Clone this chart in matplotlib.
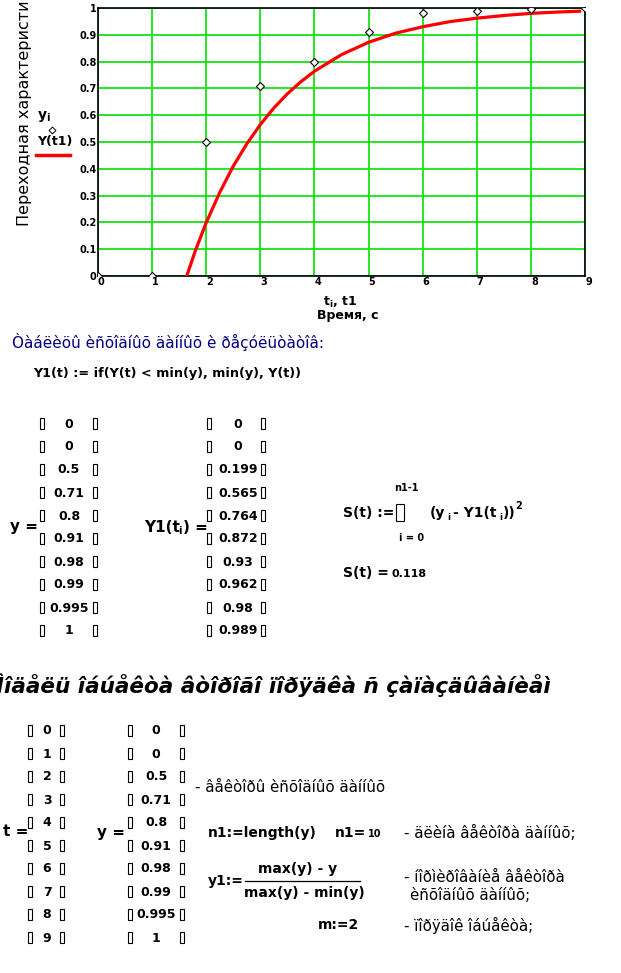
import matplotlib
matplotlib.use("Agg")
import matplotlib.pyplot as plt
from matplotlib.lines import Line2D
from matplotlib.patches import Rectangle

W, H = 621, 973

# experimental data
t_exp = [0, 1, 2, 3, 4, 5, 6, 7, 8, 9]
y_exp = [0, 0, 0.5, 0.71, 0.8, 0.91, 0.98, 0.99, 0.995, 1]

# model curve Y1(t1)
t_mod = [1.64, 1.8, 2.0, 2.25, 2.5, 2.75, 3.0, 3.25, 3.5, 3.75, 4.0, 4.5, 5.0,
         5.5, 6.0, 6.5, 7.0, 7.5, 8.0, 8.5, 8.9]
y_mod = [0.0, 0.095, 0.199, 0.312, 0.410, 0.493, 0.565, 0.627, 0.680, 0.725,
         0.764, 0.826, 0.872, 0.906, 0.930, 0.949, 0.962, 0.972, 0.980, 0.985,
         0.988]

# table of model values at t_i
y1_ti = ["0", "0", "0.199", "0.565", "0.764", "0.872", "0.93", "0.962", "0.98", "0.989"]
y_lbl = ["0", "0", "0.5", "0.71", "0.8", "0.91", "0.98", "0.99", "0.995", "1"]
t_lbl = ["0", "1", "2", "3", "4", "5", "6", "7", "8", "9"]
S_val = "0.118"
n1_val = "10"


def cp(s):
    # текст в кодировке, как его показывает Mathcad
    return s.encode("cp1251").decode("latin-1")


fig = plt.figure(figsize=(W / 100, H / 100), dpi=100)
fig.patch.set_facecolor("white")


def txt(x, y, s, **kw):
    kw.setdefault("va", "center")
    kw.setdefault("ha", "left")
    kw.setdefault("fontweight", "bold")
    kw.setdefault("fontsize", 9)
    return fig.text(x / W, 1 - y / H, s, **kw)


def box(x, y, w, h):
    # пустой прямоугольник (так Mathcad рисует скобки и знак суммы)
    fig.add_artist(Rectangle((x / W, 1 - (y + h) / H), w / W, h / H, fill=False,
                             ec="black", lw=0.8, transform=fig.transFigure))


### График
ax = fig.add_axes([98 / W, 1 - 276 / H, 487 / W, 268 / H])
ax.plot(t_mod, y_mod, color="#ff0000", lw=2.3, zorder=3)
ax.plot(t_exp, y_exp, "D", ms=4.5, mfc="white", mec="black", mew=0.8, zorder=4)
ax.set_xlim(0, 9)
ax.set_ylim(0, 1)
ax.set_xticks(range(10))
ax.set_yticks([i / 10 for i in range(11)])
ax.set_yticklabels(["0", "0.1", "0.2", "0.3", "0.4", "0.5", "0.6", "0.7", "0.8", "0.9", "1"])
ax.grid(True, color="#00e000", lw=1.2)
ax.tick_params(length=0, labelsize=7, pad=1)
for lab in ax.get_xticklabels():
    lab.set_ha("left")
    lab.set_fontweight("bold")
for lab in ax.get_yticklabels():
    lab.set_fontweight("bold")
for sp in ax.spines.values():
    sp.set_color("black")
    sp.set_linewidth(1.2)

txt(25, 226, "Переходная характеристика", rotation=90, va="bottom", ha="center",
    fontsize=11.5, fontweight="normal")
txt(340, 302, r"$\mathbf{t}_\mathbf{i}$" + ", t1", fontsize=9, ha="center")
txt(348, 316, "Время, с", fontsize=9, ha="center")

# легенда
txt(37, 117, r"$\mathbf{y}_\mathbf{i}$", fontsize=10)
fig.add_artist(Line2D([52 / W], [1 - 130 / H], marker="D", ms=3.5, mfc="white",
                      mec="black", mew=0.7, transform=fig.transFigure))
txt(37, 142, "Y(t1)", fontsize=9)
fig.add_artist(Line2D([36 / W, 70 / W], [1 - 155 / H] * 2, color="#ff0000", lw=2.5,
                      transform=fig.transFigure))

### Таблицы результатов
txt(12, 342, cp("Таблицы исходных данных и результатов:"), fontsize=11,
    fontweight="normal", color="#000080")
txt(33, 374, "Y1(t) := if(Y(t) < min(y), min(y), Y(t))", fontsize=9.2)


def matrix(xl, xr, xc, y0, vals):
    for k, v in enumerate(vals):
        yy = y0 + 23 * k
        box(xl - 2, yy - 6, 4, 11)
        box(xr - 2, yy - 6, 4, 11)
        txt(xc, yy, v, fontsize=9, ha="center")


txt(10, 527, "y =", fontsize=11)
matrix(42, 95, 69, 424, y_lbl)
txt(144, 527, "Y1(t", fontsize=11)
txt(178, 531, "i", fontsize=7)
txt(183, 527, ") =", fontsize=11)
matrix(209, 263, 238, 424, y1_ti)

txt(343, 513, "S(t) :=", fontsize=10)
box(396, 504, 8, 17)
txt(406, 488, "n1-1", fontsize=7, ha="center")
txt(412, 538, "i = 0", fontsize=7, ha="center")
txt(430, 513, "(y", fontsize=10)
txt(447, 517, "i", fontsize=6)
txt(453, 513, "- Y1(t", fontsize=10)
txt(499, 517, "i", fontsize=6)
txt(503, 513, "))", fontsize=10)
txt(515, 506, "2", fontsize=7)
txt(343, 573, "S(t) =", fontsize=10)
txt(392, 574, S_val, fontsize=8)

### Модель
txt(-4, 685, cp("Модель объекта второго порядка с запаздыванием"), fontsize=15.5,
    fontstyle="italic")

txt(3, 832, "t =", fontsize=11)
matrix(30, 62, 47, 731, t_lbl)
txt(97, 832, "y =", fontsize=11)
matrix(130, 182, 156, 731, y_lbl)

txt(195, 787, cp("- векторы исходных данных"), fontsize=10.8, fontweight="normal")
txt(208, 833, "n1:=length(y)", fontsize=10)
txt(335, 833, "n1=", fontsize=10)
txt(368, 834, n1_val, fontsize=7)
txt(404, 833, cp("- длина вектора данных;"), fontsize=10.8, fontweight="normal")

txt(208, 881, "y1:=", fontsize=10)
txt(298, 869, "max(y) - y", fontsize=10, ha="center")
fig.add_artist(Line2D([245 / W, 360 / W], [1 - 881 / H] * 2, color="black", lw=0.9,
                      transform=fig.transFigure))
txt(304, 893, "max(y) - min(y)", fontsize=10, ha="center")
txt(404, 878, cp("- нормирование вектора"), fontsize=10.8, fontweight="normal")
txt(410, 896, cp("исходных данных;"), fontsize=10.8, fontweight="normal")

txt(318, 925, "m:=2", fontsize=10)
txt(404, 925, cp("- порядок объекта;"), fontsize=10.8, fontweight="normal")

fig.savefig("out.png", dpi=100)
